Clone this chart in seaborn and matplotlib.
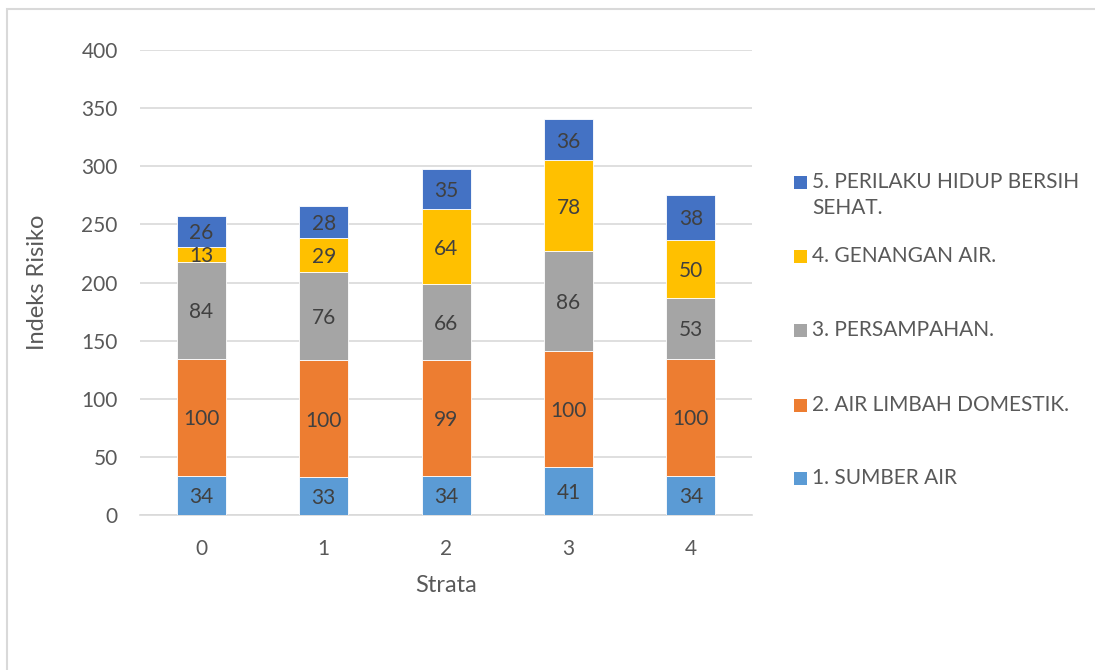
import matplotlib
matplotlib.use("Agg")
import matplotlib.pyplot as plt
from matplotlib.patches import Rectangle
import numpy as np
import pandas as pd
import seaborn as sns

# Data: risk index components per stratum
strata = ["0", "1", "2", "3", "4"]
sumber_air = [34, 33, 34, 41, 34]
air_limbah = [100, 100, 99, 100, 100]
persampahan = [84, 76, 66, 86, 53]
genangan_air = [13, 29, 64, 78, 50]
perilaku_hidup = [26, 28, 35, 36, 38]

series_names = [
    "1. SUMBER AIR",
    "2. AIR LIMBAH DOMESTIK.",
    "3. PERSAMPAHAN.",
    "4. GENANGAN AIR.",
    "5. PERILAKU HIDUP BERSIH\nSEHAT.",
]
series_values = [sumber_air, air_limbah, persampahan, genangan_air, perilaku_hidup]
series_colors = ["#5B9BD5", "#ED7D31", "#A5A5A5", "#FFC000", "#4472C4"]

sns.set_theme(style="white")
plt.rcParams["font.family"] = ["Lato", "DejaVu Sans"]

TEXT = "#595959"
LABEL = "#404040"
GRID = "#D9D9D9"

fig = plt.figure(figsize=(10.95, 6.7), dpi=100)
ax = fig.add_axes([0.1279, 0.2313, 0.5589, 0.694])

# Stacked bars, one seaborn call per component
bottom = np.zeros(len(strata))
for name, vals, col in zip(series_names, series_values, series_colors):
    df = pd.DataFrame({"Strata": strata, "Nilai": vals})
    sns.barplot(data=df, x="Strata", y="Nilai", ax=ax, color=col,
                width=0.4, bottom=bottom, edgecolor="white", linewidth=0.6,
                saturation=1, zorder=3)
    for i, v in enumerate(vals):
        ax.text(i, bottom[i] + v / 2, f"{v}", ha="center", va="center_baseline",
                fontsize=15, color=LABEL, zorder=4)
    bottom = bottom + np.array(vals)

ax.set_xlim(-0.5, 4.5)
ax.set_ylim(0, 400)
ax.set_yticks(np.arange(0, 401, 50))
ax.yaxis.grid(True, color=GRID, linewidth=1.2, zorder=0)
ax.set_axisbelow(True)
for side in ["top", "right", "left"]:
    ax.spines[side].set_visible(False)
ax.spines["bottom"].set_color(GRID)
ax.spines["bottom"].set_linewidth(1.2)
ax.tick_params(axis="both", length=0, labelsize=15, labelcolor=TEXT)
ax.tick_params(axis="y", pad=16)
ax.tick_params(axis="x", pad=17)

ax.set_xlabel("Strata", fontsize=17, color=TEXT, labelpad=12)
ax.set_ylabel("Indeks Risiko", fontsize=17, color=TEXT, labelpad=24)

# Legend on the right, top entry first
W, H = 1095.0, 670.0
legend_rows = [182, 256, 330, 405, 478]
for (name, col), yc in zip(zip(series_names[::-1], series_colors[::-1]), legend_rows):
    fig.add_artist(Rectangle((794 / W, 1 - (yc + 7) / H), 13 / W, 13 / H,
                             transform=fig.transFigure, facecolor=col,
                             edgecolor="none"))
    fig.text(812 / W, 1 - (yc - 10) / H, name, ha="left", va="top",
             fontsize=15, color=TEXT, linespacing=1.4)

# Chart frame
fig.add_artist(Rectangle((7 / W, -0.2), 1.5, 1.2 - 9 / H,
                         transform=fig.transFigure, fill=False,
                         edgecolor=GRID, linewidth=1.5))

fig.savefig("out.png", dpi=100, facecolor="white")
